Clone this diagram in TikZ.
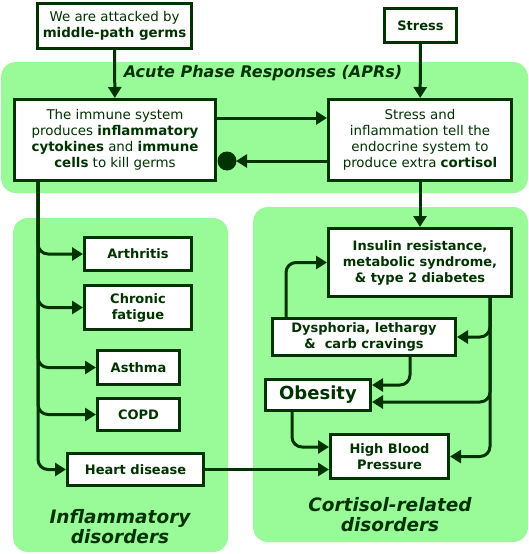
\documentclass[tikz,border=0pt]{standalone}
\usepackage{fontspec}
\setmainfont{DejaVu Sans}
\usetikzlibrary{arrows.meta}
\definecolor{dkgreen}{RGB}{0,51,0}
\definecolor{panel}{RGB}{152,251,152}
\newcommand{\nrm}  {\fontsize{13.4}{16}\selectfont}
\newcommand{\sbf}  {\fontsize{13}{16}\selectfont\bfseries}

\begin{document}
\begin{tikzpicture}[x=1pt,y=-1pt,
  every node/.style={text=dkgreen},
  box/.style={draw=dkgreen,line width=3pt,fill=white,inner sep=0pt,align=center},
  arr/.style={draw=dkgreen,line width=3pt,-{Triangle[length=11pt,width=13pt]}},
  lane/.style={fill=panel,rounded corners=15pt},
  title/.style={font=\fontsize{18.5}{20}\selectfont\bfseries\itshape,align=center}]
  \useasboundingbox (0,0) rectangle (529,554);
  % panels
  \fill[lane] (1,62) rectangle (528,193);
  \fill[lane] (13,218) rectangle (228,552);
  \fill[lane] (253,207) rectangle (528,542);
  \node[title,font=\fontsize{16}{18}\selectfont\bfseries\itshape] (apr) at (263,73)
    {Acute Phase Responses (APRs)};
  \node[title] (inflam) at (120,527) {Inflammatory\\disorders};
  \node[title] (cortdis) at (390,515) {Cortisol-related\\disorders};
  % top row
  \node[box,minimum width=154,minimum height=45,font=\nrm] (germs) at (114.5,26)
    {We are attacked by\\\textbf{middle-path germs}};
  \node[box,minimum width=72,minimum height=34,font=\sbf] (stress) at (420.5,25.5) {Stress};
  \node[box,minimum width=201,minimum height=81,font=\nrm] (immune) at (115,140)
    {The immune system\\produces \textbf{inflammatory}\\\textbf{cytokines} and \textbf{immune}\\\textbf{cells} to kill germs};
  \node[box,minimum width=183,minimum height=81,font=\nrm] (cortisol) at (420,140)
    {Stress and\\inflammation tell the\\endocrine system to\\produce extra \textbf{cortisol}};
  % inflammatory disorders
  \node[box,minimum width=107,minimum height=33,font=\sbf] (arthritis) at (138,254) {Arthritis};
  \node[box,minimum width=107,minimum height=44,font=\sbf] (fatigue) at (138,307.5) {Chronic\\fatigue};
  \node[box,minimum width=82,minimum height=34,font=\sbf] (asthma) at (138.5,367.5) {Asthma};
  \node[box,minimum width=82,minimum height=32,font=\sbf] (copd) at (138.5,414.5) {COPD};
  \node[box,minimum width=136,minimum height=32,font=\sbf] (heart) at (135.5,469.5) {Heart disease};
  % cortisol-related disorders
  \node[box,minimum width=183,minimum height=68,font=\sbf] (insulin) at (420,262.5)
    {Insulin resistance,\\metabolic syndrome,\\\& type 2 diabetes};
  \node[box,minimum width=183,minimum height=37,font=\sbf] (dysphoria) at (364,337)
    {Dysphoria, lethargy\\\&~ carb cravings};
  \node[box,minimum width=105,minimum height=31,font=\fontsize{18}{20}\selectfont\bfseries] (obesity) at (318,395) {Obesity};
  \node[box,minimum width=118,minimum height=44,font=\sbf] (hbp) at (389.5,456.5) {High Blood\\Pressure};
  % connectors
  \draw[arr] (germs) -- (immune);
  \draw[arr] (stress) -- (cortisol);
  \draw[arr] (immune.east |- 0,118) -- (cortisol.west |- 0,118);
  \coordinate (dot) at (227,161);
  \fill[dkgreen] (dot) circle (9.5);
  \draw[arr,shorten >=9pt] (cortisol.west |- 0,161) -- (dot);
  \draw[arr] (cortisol) -- (insulin);
  \coordinate (trunk) at (38,182);
  \foreach \n in {arthritis,fatigue,asthma,copd,heart}
    \draw[arr,rounded corners=10pt] (trunk) |- (\n.west);
  \draw[arr] (heart) -- (hbp.west |- heart.east);
  \coordinate (itrunk) at (490,298);
  \draw[arr,rounded corners=10pt] (itrunk) |- (dysphoria.east);
  \draw[arr,rounded corners=10pt] (itrunk) |- (obesity.east |- 0,402);
  \draw[arr,rounded corners=10pt] (itrunk) |- (hbp.east);
  \draw[arr,rounded corners=10pt] (dysphoria.north -| 286,0) |- (insulin.west);
  \draw[arr,rounded corners=10pt] (dysphoria.south -| 410,0) |- (obesity.east |- 0,385);
  \draw[arr,rounded corners=10pt] (obesity.south -| 292,0) |- (hbp.west |- 0,447);
\end{tikzpicture}
\end{document}
